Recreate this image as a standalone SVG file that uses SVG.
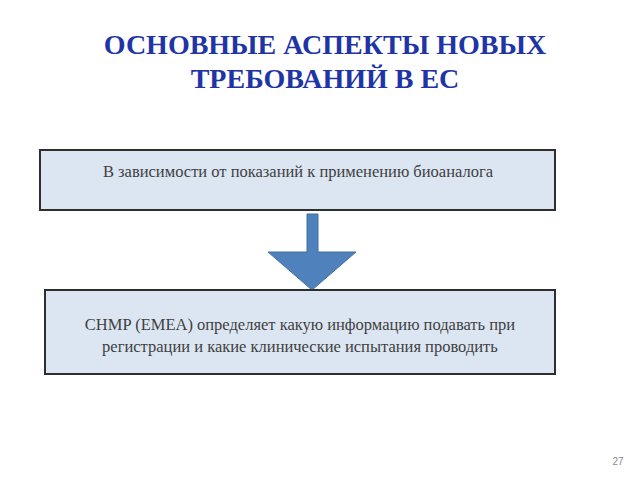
<svg xmlns="http://www.w3.org/2000/svg" width="640" height="480" viewBox="0 0 640 480">
<style>
.title{font-family:'Liberation Serif','Times New Roman','DejaVu Serif',serif;font-weight:bold;font-size:28px;fill:#1f35a6;text-anchor:middle}
.box{fill:#dce6f2;stroke:#2e2e2e;stroke-width:2}
.txt{font-family:'Liberation Serif','Times New Roman','DejaVu Serif',serif;font-size:16.5px;fill:#3f3f3f;text-anchor:middle}
.arrow{fill:#4f81bd;stroke:#41719c;stroke-width:1}
</style>
<rect width="640" height="480" fill="#ffffff"/>
<g id="title">
<text class="title" x="325" y="54">ОСНОВНЫЕ АСПЕКТЫ НОВЫХ</text>
<text class="title" x="325" y="88">ТРЕБОВАНИЙ В ЕС</text>
</g>
<g id="node1">
<rect class="box" x="40" y="150" width="515" height="60"/>
<text class="txt" x="298" y="177">В зависимости от показаний к применению биоаналога</text>
</g>
<g id="connectors">
<polygon class="arrow" points="307,214 318,214 318,252 356,252 312,290 268,252 307,252"/>
</g>
<g id="node2">
<rect class="box" x="45" y="290" width="510" height="84"/>
<text class="txt" x="300" y="330">CHMP (EMEA) определяет какую информацию подавать при</text>
<text class="txt" x="300" y="352">регистрации и какие клинические испытания проводить</text>
</g>
<text x="618" y="465" font-family="Liberation Sans, sans-serif" font-size="10" fill="#8a8a8a" text-anchor="middle">27</text>
</svg>
